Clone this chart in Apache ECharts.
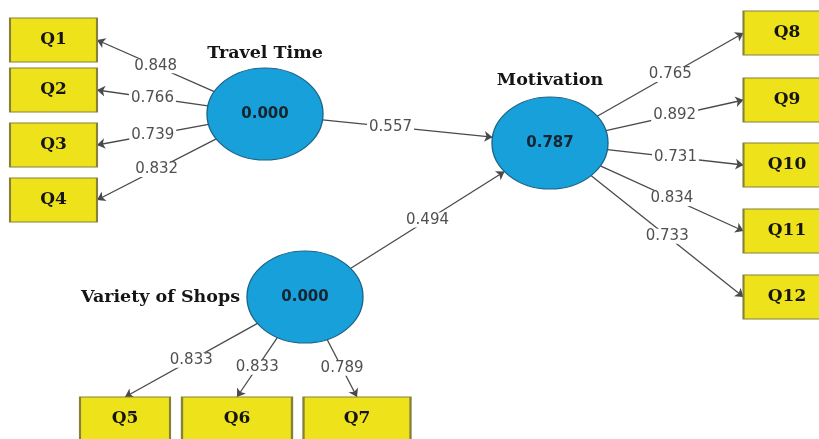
<!DOCTYPE html>
<html>
<head>
<meta charset="utf-8">
<script src="https://cdn.jsdelivr.net/npm/echarts@6/dist/echarts.min.js"></script>
<style>
  html, body { margin: 0; padding: 0; background: #fff; }
  #chart { width: 819px; height: 439px; }
</style>
</head>
<body>
<div id="chart"></div>
<script>
// model data
var indicatorNames = ['Q1', 'Q2', 'Q3', 'Q4', 'Q5', 'Q6', 'Q7', 'Q8', 'Q9', 'Q10', 'Q11', 'Q12'];
var latentNames = ['Travel Time', 'Variety of Shops', 'Motivation'];
var rSquared = ['0.000', '0.000', '0.787'];
var pathFrom = ['Travel Time', 'Travel Time', 'Travel Time', 'Travel Time',
  'Variety of Shops', 'Variety of Shops', 'Variety of Shops',
  'Motivation', 'Motivation', 'Motivation', 'Motivation', 'Motivation',
  'Travel Time', 'Variety of Shops'];
var pathTo = ['Q1', 'Q2', 'Q3', 'Q4', 'Q5', 'Q6', 'Q7', 'Q8', 'Q9', 'Q10', 'Q11', 'Q12',
  'Motivation', 'Motivation'];
var pathValues = ['0.848', '0.766', '0.739', '0.832', '0.833', '0.833', '0.789',
  '0.765', '0.892', '0.731', '0.834', '0.733', '0.557', '0.494'];

// diagram layout (pixel units of the hidden axes)
var layout = {
  'Travel Time': { x: 265, y: 114, w: 116, h: 92, pos: 'top', dist: 6 },
  'Variety of Shops': { x: 305, y: 297, w: 116, h: 92, pos: 'left', dist: 7 },
  'Motivation': { x: 550, y: 143, w: 116, h: 92, pos: 'top', dist: 8 },
  'Q1': { x: 53.5, y: 40, w: 87, h: 44, side: 'right' },
  'Q2': { x: 53.5, y: 90, w: 87, h: 44, side: 'right' },
  'Q3': { x: 53.5, y: 145, w: 87, h: 44, side: 'right' },
  'Q4': { x: 53.5, y: 200, w: 87, h: 44, side: 'right' },
  'Q5': { x: 125, y: 419, w: 90, h: 44, side: 'top' },
  'Q6': { x: 237, y: 419, w: 110, h: 44, side: 'top' },
  'Q7': { x: 357, y: 419, w: 107, h: 44, side: 'top' },
  'Q8': { x: 787, y: 33, w: 87, h: 44, side: 'left' },
  'Q9': { x: 787, y: 100, w: 87, h: 44, side: 'left' },
  'Q10': { x: 787, y: 165, w: 87, h: 44, side: 'left' },
  'Q11': { x: 787, y: 231, w: 87, h: 44, side: 'left' },
  'Q12': { x: 787, y: 297, w: 87, h: 44, side: 'left' }
};
// where along each path its loading sits (0 = start, 1 = arrow tip)
var labelAt = [0.5, 0.5, 0.5, 0.5, 0.5, 0.5, 0.5, 0.5, 0.5, 0.5, 0.5, 0.5, 0.4, 0.5];

function clipEllipse(n, tx, ty) {
  var dx = tx - n.x, dy = ty - n.y;
  var rx = n.w / 2, ry = n.h / 2;
  var t = 1 / Math.sqrt((dx / rx) * (dx / rx) + (dy / ry) * (dy / ry));
  return [n.x + dx * t, n.y + dy * t];
}

function boxPoint(n) {
  if (n.side === 'right') return [n.x + n.w / 2, n.y];
  if (n.side === 'left') return [n.x - n.w / 2, n.y];
  return [n.x, n.y - n.h / 2];
}

var lineData = [];
var labelData = [];
for (var i = 0; i < pathFrom.length; i++) {
  var a = layout[pathFrom[i]];
  var b = layout[pathTo[i]];
  var end = b.side ? boxPoint(b) : clipEllipse(b, a.x, a.y);
  var start = clipEllipse(a, end[0], end[1]);
  var f = labelAt[i];
  lineData.push({ coords: [start, end] });
  labelData.push({
    value: [start[0] + (end[0] - start[0]) * f, start[1] + (end[1] - start[1]) * f],
    name: pathValues[i]
  });
}

var boxData = indicatorNames.map(function (q) {
  var n = layout[q];
  return { name: q, value: [n.x, n.y], symbolSize: [n.w, n.h] };
});
var latentData = latentNames.map(function (name, i) {
  var n = layout[name];
  return { name: rSquared[i], value: [n.x, n.y], symbolSize: [n.w, n.h] };
});
var latentLabels = latentNames.map(function (name) {
  var n = layout[name];
  return {
    name: name, value: [n.x, n.y], symbolSize: [n.w, n.h],
    label: { position: n.pos, distance: n.dist }
  };
});

var chart = echarts.init(document.getElementById('chart'));
chart.setOption({
  backgroundColor: '#ffffff',
  animation: false,
  grid: { left: 0, right: 0, top: 0, bottom: 0 },
  xAxis: { type: 'value', min: 0, max: 819, show: false },
  yAxis: { type: 'value', min: 0, max: 439, inverse: true, show: false },
  series: [
    {
      type: 'lines',
      coordinateSystem: 'cartesian2d',
      z: 2,
      symbol: ['none', 'arrow'],
      symbolSize: 8,
      lineStyle: { color: '#4a4a4a', width: 1.3, opacity: 1 },
      data: lineData
    },
    {
      type: 'scatter',
      z: 3,
      symbolSize: 1,
      itemStyle: { color: 'rgba(0,0,0,0)', opacity: 1 },
      label: {
        show: true,
        position: 'inside',
        formatter: '{b}',
        fontFamily: 'DejaVu Sans',
        fontSize: 15,
        color: '#505050',
        backgroundColor: '#ffffff',
        padding: [0, 2]
      },
      data: labelData
    },
    {
      type: 'scatter',
      z: 4,
      symbol: 'rect',
      itemStyle: { color: '#eee31a', borderColor: '#86803a', borderWidth: 1.5, opacity: 1 },
      label: {
        show: true,
        position: 'inside',
        formatter: '{b}',
        fontFamily: 'DejaVu Serif',
        fontWeight: 'bold',
        fontSize: 17,
        color: '#151515'
      },
      data: boxData
    },
    {
      type: 'scatter',
      z: 4,
      symbol: 'circle',
      itemStyle: { color: '#17a0d9', borderColor: '#1b6488', borderWidth: 1.2, opacity: 1 },
      label: {
        show: true,
        position: 'inside',
        formatter: '{b}',
        fontFamily: 'DejaVu Sans',
        fontWeight: 'bold',
        fontSize: 15,
        color: '#16242f'
      },
      data: latentData
    },
    {
      type: 'scatter',
      z: 5,
      symbol: 'circle',
      itemStyle: { color: 'rgba(0,0,0,0)', opacity: 1 },
      label: {
        show: true,
        formatter: '{b}',
        fontFamily: 'DejaVu Serif',
        fontWeight: 'bold',
        fontSize: 17.5,
        color: '#151515'
      },
      data: latentLabels
    }
  ]
});
</script>
</body>
</html>
